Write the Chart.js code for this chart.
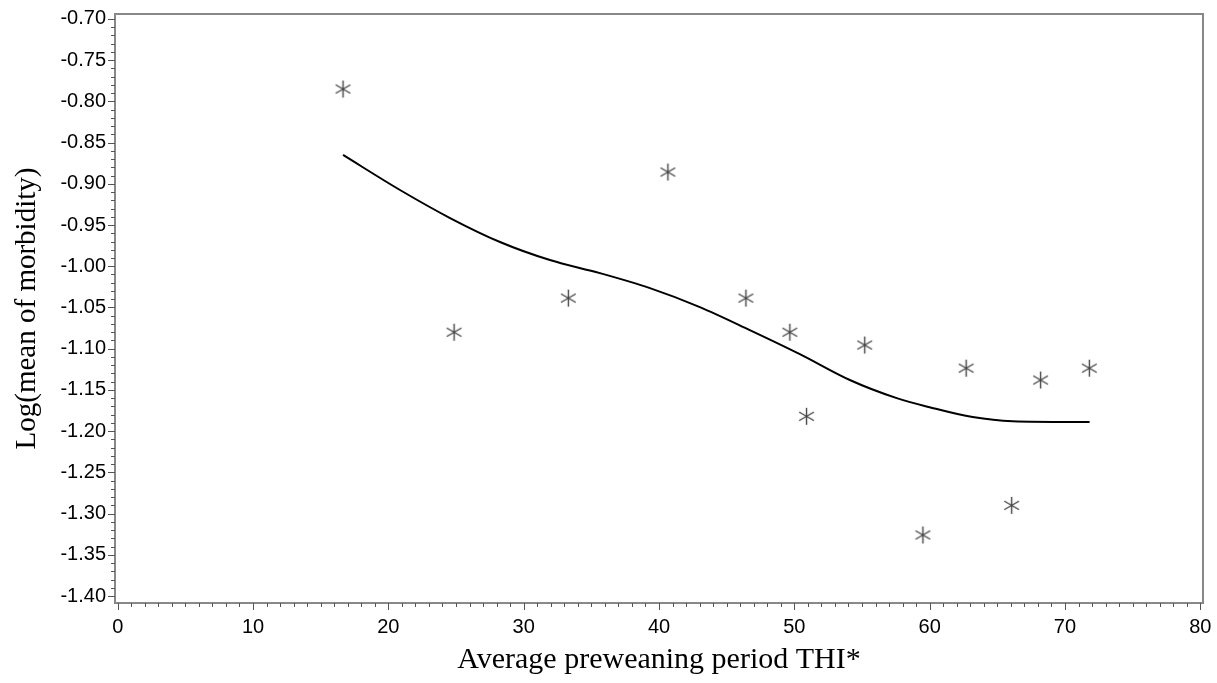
<!DOCTYPE html>
<html>
<head>
<meta charset="utf-8">
<script src="https://cdn.jsdelivr.net/npm/chart.js@4"></script>
<style>
  html, body { margin: 0; padding: 0; background: #fff; }
  #wrap { width: 1217px; height: 683px; }
</style>
</head>
<body>
<div id="wrap"><canvas id="chart" width="1217" height="683"></canvas></div>
<script>
// observed points (THI, log mean morbidity)
const obsX = [16.65, 24.86, 33.3, 40.66, 46.42, 49.67, 50.9, 55.2, 59.5, 62.7, 66.06, 68.2, 71.8];
const obsY = [-0.785, -1.080, -1.0386, -0.8857, -1.0386, -1.080, -1.182, -1.0956, -1.326, -1.1236, -1.290, -1.138, -1.1236];

// fitted curve
const fitX = [16.65, 20.86, 24.56, 28.25, 31.94, 35.63, 39.33, 43.02, 46.71, 50.41, 54.1, 57.57, 60.0, 63.18, 66.13, 71.82];
const fitY = [-0.865, -0.9075, -0.9415, -0.9706, -0.9925, -1.0083, -1.0265, -1.0495, -1.0774, -1.1066, -1.138, -1.160, -1.171, -1.183, -1.188, -1.189];

// ticks: x every 1 (labels every 10), y every 0.01 (labels every 0.05)
const xTicks = [];
for (let i = 0; i <= 80; i++) xTicks.push(i);
const yTicks = [];
for (let i = -140; i <= -70; i++) yTicks.push(i);   // hundredths

// 6-arm asterisk marker
function makeStar() {
  const c = document.createElement("canvas");
  c.width = 19; c.height = 19;
  const g = c.getContext("2d");
  g.strokeStyle = "#444";
  g.lineWidth = 1.4;
  const r = 8.5;
  [90, 30, 150].forEach(a => {
    const t = a * Math.PI / 180;
    g.beginPath();
    g.moveTo(9.5 - r * Math.cos(t), 9.5 - r * Math.sin(t));
    g.lineTo(9.5 + r * Math.cos(t), 9.5 + r * Math.sin(t));
    g.stroke();
  });
  return c;
}

// frame + major/minor ticks
const framePlugin = {
  id: "frame",
  afterDraw(chart) {
    const { ctx, chartArea: a, scales } = chart;
    ctx.save();
    ctx.strokeStyle = "#888";
    ctx.lineWidth = 2;
    ctx.strokeRect(a.left, a.top, a.right - a.left, a.bottom - a.top);
    ctx.lineWidth = 1;
    ctx.strokeStyle = "#555";
    ctx.beginPath();
    xTicks.forEach(v => {
      const px = Math.round(scales.x.getPixelForValue(v)) + 0.5;
      const len = v % 10 === 0 ? 7 : 4;
      ctx.moveTo(px, a.bottom);
      ctx.lineTo(px, a.bottom + len);
    });
    yTicks.forEach(i => {
      const py = Math.round(scales.y.getPixelForValue(i / 100)) + 0.5;
      const len = i % 5 === 0 ? 7 : 4;
      ctx.moveTo(a.left, py);
      ctx.lineTo(a.left - len, py);
    });
    ctx.stroke();
    ctx.restore();
  }
};

new Chart(document.getElementById("chart"), {
  type: "scatter",
  data: {
    datasets: [{
      label: "fit",
      type: "line",
      data: fitX.map((x, i) => ({ x: x, y: fitY[i] })),
      borderColor: "#000",
      borderWidth: 2,
      pointRadius: 0,
      fill: false,
      cubicInterpolationMode: "monotone"
    }, {
      label: "observed",
      data: obsX.map((x, i) => ({ x: x, y: obsY[i] })),
      pointStyle: makeStar(),
      pointRadius: 9
    }]
  },
  options: {
    responsive: false,
    animation: false,
    layout: { padding: { top: 14, right: 14, left: 0, bottom: 0 } },
    plugins: { legend: { display: false }, tooltip: { enabled: false } },
    scales: {
      x: {
        type: "linear",
        min: -0.2,
        max: 80.2,
        afterBuildTicks: s => { s.ticks = xTicks.map(v => ({ value: v })); },
        afterFit: s => { s.height = 80; s.paddingLeft = 0; s.paddingRight = 0; },
        grid: { display: false, drawTicks: false },
        border: { display: false },
        ticks: {
          autoSkip: false,
          maxRotation: 0,
          padding: 12,
          color: "#000",
          font: { family: "Liberation Sans", size: 20 },
          callback: v => (Math.round(v) % 10 === 0 ? String(Math.round(v)) : "")
        },
        title: {
          display: true,
          text: "Average preweaning period THI*",
          color: "#000",
          font: { family: "Liberation Serif", size: 30 },
          padding: { top: 0, bottom: 5 }
        }
      },
      y: {
        type: "linear",
        min: -1.4085,
        max: -0.694,
        afterBuildTicks: s => { s.ticks = yTicks.map(i => ({ value: i / 100 })); },
        afterFit: s => { s.width = 115; s.paddingTop = 0; s.paddingBottom = 0; },
        grid: { display: false, drawTicks: false },
        border: { display: false },
        ticks: {
          autoSkip: false,
          padding: 9,
          color: "#000",
          font: { family: "Liberation Sans", size: 20 },
          callback: v => {
            const i = Math.round(v * 100);
            return i % 5 === 0 ? (i / 100).toFixed(2) : "";
          }
        },
        title: {
          display: true,
          text: "Log(mean of morbidity)",
          color: "#000",
          font: { family: "Liberation Serif", size: 29 },
          padding: { top: 10, bottom: 0 }
        }
      }
    }
  },
  plugins: [framePlugin]
});
</script>
</body>
</html>
